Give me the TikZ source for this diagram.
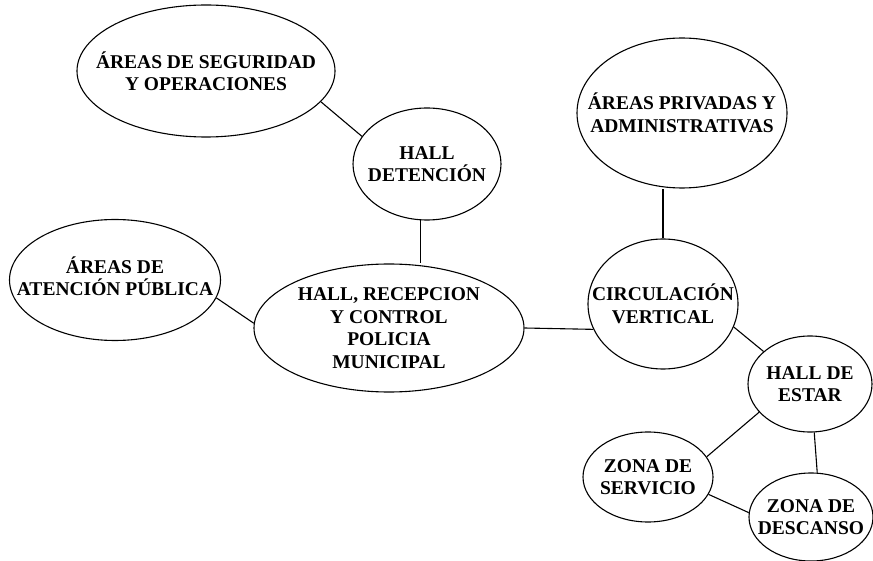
\documentclass[tikz,border=0pt]{standalone}
\usepackage{fontspec}
\setmainfont{Liberation Serif}
\usetikzlibrary{shapes}
\tikzset{
        zone/.style = {draw, ellipse, line width=1.1pt, inner sep=-100pt, align=center, font=\bfseries\fontsize{19.5}{22.5}\selectfont},
        link/.style = {line width=1.1pt},
    }
\begin{document}
\begin{tikzpicture}[x=1pt, y=-1pt]
    \useasboundingbox (0,0) rectangle (873,561);

    \node [zone, minimum width=258, minimum height=132] (seguridad) at (206,71) {ÁREAS DE SEGURIDAD\\Y OPERACIONES};
    \node [zone, minimum width=148, minimum height=112] (detencion) at (427,164) {HALL\\DETENCIÓN};
    \node [zone, minimum width=211, minimum height=121, text depth=8pt] (atencion) at (115,280) {ÁREAS DE\\ATENCIÓN PÚBLICA};
    \node [zone, minimum width=270, minimum height=128] (recepcion) at (389,328) {HALL, RECEPCION\\Y CONTROL\\POLICIA\\MUNICIPAL};
    \node [zone, minimum width=210, minimum height=150] (privadas) at (682,113) {ÁREAS PRIVADAS Y\\ADMINISTRATIVAS};
    \node [zone, minimum width=150, minimum height=130] (circulacion) at (663,304) {CIRCULACIÓN\\VERTICAL};
    \node [zone, minimum width=124, minimum height=96] (estar) at (810,384) {HALL DE\\ESTAR};
    \node [zone, minimum width=130, minimum height=90] (servicio) at (648,477) {ZONA DE\\SERVICIO};
    \node [zone, minimum width=124, minimum height=88] (descanso) at (811,517) {ZONA DE\\DESCANSO};

    \draw [link] (seguridad.-15) -- (detencion.157);
    \draw [link] (detencion.263) -- (recepcion.north -| detencion.263);
    \draw [link] (atencion.-10) -- (recepcion.178);
    \draw [link] (recepcion.east) -- (circulacion.200);
    \draw [link] (circulacion.north) -- (circulacion.north |- privadas.south);
    \draw [link] (circulacion.-18) -- (estar.145);
    \draw [link] (estar.209) -- (servicio.19);
    \draw [link] (estar.275) -- (descanso.82);
    \draw [link] (servicio.-16) -- (descanso.176);

\end{tikzpicture}
\end{document}
